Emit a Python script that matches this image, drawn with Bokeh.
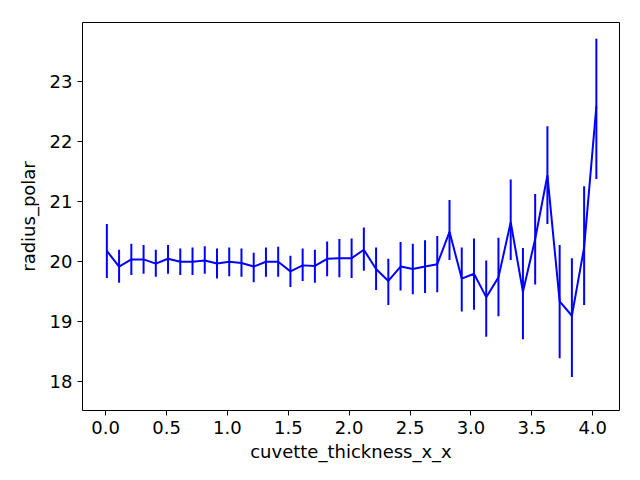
from bokeh.plotting import figure
from bokeh.models import Range1d, FixedTicker, PrintfTickFormatter
from bokeh.embed import file_html
from bokeh.resources import INLINE

thickness = [round(0.01 + 0.1005 * i, 4) for i in range(41)]
radius = [20.18, 19.92, 20.04, 20.04, 19.97, 20.05, 20.0, 20.0, 20.02, 19.97,
          20.0, 19.98, 19.92, 20.0, 20.0, 19.84, 19.94, 19.93, 20.05, 20.06,
          20.06, 20.2, 19.88, 19.68, 19.92, 19.88, 19.92, 19.96, 20.5, 19.72,
          19.8, 19.41, 19.74, 20.66, 19.5, 20.38, 21.44, 19.34, 19.1, 20.24,
          22.59]
err_lo = [19.73, 19.65, 19.78, 19.8, 19.75, 19.8, 19.78, 19.78, 19.8, 19.72,
          19.76, 19.75, 19.66, 19.75, 19.75, 19.58, 19.68, 19.65, 19.76, 19.74,
          19.73, 19.85, 19.53, 19.28, 19.52, 19.46, 19.48, 19.49, 20.03, 19.17,
          19.2, 18.75, 19.09, 20.03, 18.71, 19.62, 20.63, 18.39, 18.08, 19.28,
          21.38]
err_hi = [20.63, 20.2, 20.3, 20.28, 20.2, 20.28, 20.22, 20.24, 20.26, 20.22,
          20.24, 20.22, 20.15, 20.24, 20.25, 20.1, 20.22, 20.2, 20.34, 20.38,
          20.39, 20.57, 20.24, 20.05, 20.33, 20.3, 20.36, 20.43, 21.03, 20.24,
          20.39, 20.02, 20.4, 21.37, 20.23, 21.13, 22.26, 20.28, 20.06, 21.26,
          23.72]

p = figure(width=624, height=464, output_backend="svg", toolbar_location=None,
           x_range=Range1d(-0.19, 4.22), y_range=Range1d(17.52, 23.99),
           min_border_left=82, min_border_right=5, min_border_top=22,
           min_border_bottom=41)
p.segment(thickness, err_lo, thickness, err_hi, color="blue", line_width=2)
p.line(thickness, radius, color="blue", line_width=2)

p.grid.visible = False
p.outline_line_color = "black"
p.outline_line_width = 1
p.xaxis.ticker = FixedTicker(ticks=[0, 0.5, 1, 1.5, 2, 2.5, 3, 3.5, 4])
p.yaxis.ticker = FixedTicker(ticks=[18, 19, 20, 21, 22, 23])
p.xaxis.formatter = PrintfTickFormatter(format="%.1f")
p.xaxis.axis_label = "cuvette_thickness_x_x"
p.yaxis.axis_label = "radius_polar"
for ax in (p.xaxis, p.yaxis):
    ax.axis_label_text_font = "DejaVu Sans"
    ax.axis_label_text_font_size = "18px"
    ax.axis_label_text_font_style = "normal"
    ax.axis_label_text_color = "black"
    ax.major_label_text_font = "DejaVu Sans"
    ax.major_label_text_font_size = "18px"
    ax.major_label_text_color = "black"
    ax.major_tick_line_color = "black"
    ax.minor_tick_line_color = None
    ax.major_tick_out = 5
    ax.major_tick_in = 0
    ax.axis_line_color = None
p.xaxis.axis_label_standoff = 4
p.yaxis.axis_label_standoff = 8

open("out.html", "w").write(file_html(p, INLINE))
